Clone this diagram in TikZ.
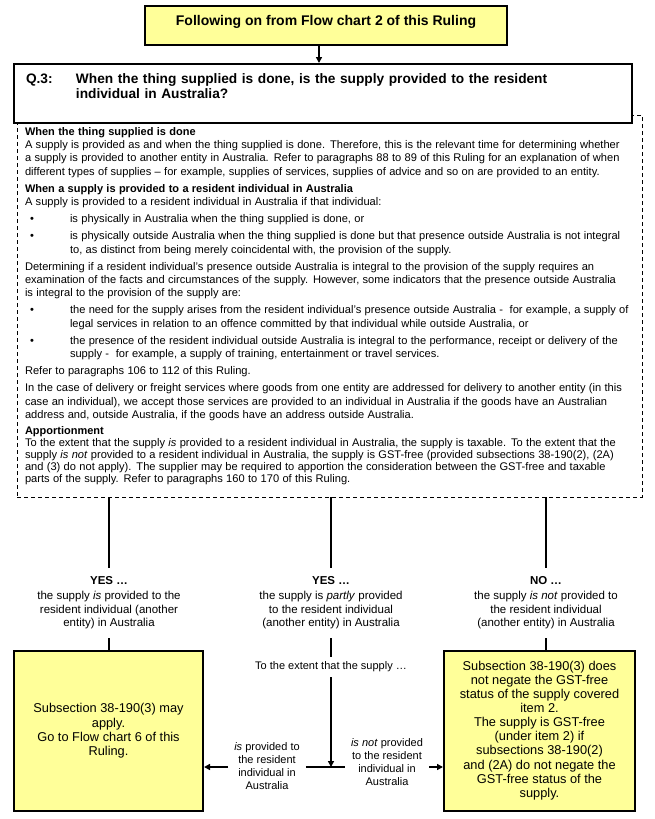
\documentclass[tikz,border=0pt]{standalone}
\usepackage{fontspec}
\setmainfont{Liberation Sans}
\usetikzlibrary{arrows.meta,positioning,calc}
\definecolor{boxyellow}{RGB}{255,255,153}
\setlength{\parindent}{0pt}

\newcommand{\headfont}{\fontsize{11}{13.2}\selectfont\bfseries}
\newcommand{\bulletpar}[1]{\par\hangindent=45pt\hangafter=1\noindent\makebox[45pt][l]{\hspace*{5pt}\textbullet}#1\par}

\begin{document}
\begin{tikzpicture}[
  x=1pt, y=-1pt,
  >={Triangle[length=6pt,width=6pt]},
  thickline/.style={line width=1.8pt},
  yellowbox/.style={draw,line width=2pt,fill=boxyellow,align=center,inner sep=0pt},
  qbox/.style={draw,line width=2pt,fill=white,align=left,text width=594pt,inner xsep=12pt,inner ysep=0pt,minimum height=59pt},
  notesbox/.style={draw,line width=0.8pt,dash pattern=on 4pt off 3pt,align=left,text width=609pt,inner xsep=8pt,inner ysep=0pt,minimum height=382pt},
  answer/.style={align=center,inner xsep=2pt,inner ysep=9pt,font=\fontsize{11.5}{13.5}\selectfont},
  sidelabel/.style={align=center,inner xsep=6pt,inner ysep=2pt,font=\fontsize{11}{13}\selectfont}
]
\path[use as bounding box,fill=white] (0,0) rectangle (654,819);

\node[yellowbox,minimum width=362pt,minimum height=39pt,text depth=11pt,font=\fontsize{14}{16}\selectfont\bfseries] (prev) at (326,25.5)
  {Following on from Flow chart 2 of this Ruling};

% notes first, the question box sits over its top edge
\node[notesbox] (notes) at (329.5,306) {%
  \fontsize{11.1}{13.2}\selectfont\setlength{\parskip}{4pt}%
  {\headfont When the thing supplied is done}\newline
  A supply is provided as and when the thing supplied is done. Therefore, this is the relevant time for determining whether\newline
  a supply is provided to another entity in Australia. Refer to paragraphs 88 to 89 of this Ruling for an explanation of when\newline
  different types of supplies -- for example, supplies of services, supplies of advice and so on are provided to an entity.\par
  {\headfont When a supply is provided to a resident individual in Australia}\newline
  A supply is provided to a resident individual in Australia if that individual:\par
  \bulletpar{is physically in Australia when the thing supplied is done, or}
  \bulletpar{is physically outside Australia when the thing supplied is done but that presence outside Australia is not integral\newline
    to, as distinct from being merely coincidental with, the provision of the supply.}
  Determining if a resident individual’s presence outside Australia is integral to the provision of the supply requires an\newline
  examination of the facts and circumstances of the supply. However, some indicators that the presence outside Australia\newline
  is integral to the provision of the supply are:\par
  \bulletpar{the need for the supply arises from the resident individual’s presence outside Australia - \ for example, a supply of\newline
    legal services in relation to an offence committed by that individual while outside Australia, or}
  \bulletpar{the presence of the resident individual outside Australia is integral to the performance, receipt or delivery of the\newline
    supply - \ for example, a supply of training, entertainment or travel services.}
  Refer to paragraphs 106 to 112 of this Ruling.\par
  In the case of delivery or freight services where goods from one entity are addressed for delivery to another entity (in this\newline
  case an individual), we accept those services are provided to an individual in Australia if the goods have an Australian\newline
  address and, outside Australia, if the goods have an address outside Australia.\par
  {\headfont Apportionment}\newline
  To the extent that the supply \textit{is} provided to a resident individual in Australia, the supply is taxable. To the extent that the\newline
  supply \textit{is not} provided to a resident individual in Australia, the supply is GST-free (provided subsections 38-190(2), (2A)\newline
  and (3) do not apply). The supplier may be required to apportion the consideration between the GST-free and taxable\newline
  parts of the supply. Refer to paragraphs 160 to 170 of this Ruling.};

\node[qbox,font=\fontsize{13.7}{15}\selectfont\bfseries] (q3) at (323,93.5)
  {\makebox[50pt][l]{Q.3:}When the thing supplied is done, is the supply provided to the resident\\
   \hspace*{50pt}individual in Australia?\\ \mbox{}};

\coordinate (dropT) at (319,0);
\draw[thickline,->] (prev.south -| dropT) -- (q3.north -| dropT);

\node[answer] (yesL) at (109,603) {{\fontsize{11.5}{13.5}\selectfont\bfseries YES …}\\[1.5pt]
  the supply \textit{is} provided to the\\resident individual (another\\entity) in Australia};
\node[answer] (yesM) at (331,603) {{\fontsize{11.5}{13.5}\selectfont\bfseries YES …}\\[1.5pt]
  the supply is \textit{partly} provided\\to the resident individual\\(another entity) in Australia};
\node[answer] (noR) at (546,603) {{\fontsize{11.5}{13.5}\selectfont\bfseries NO …}\\[1.5pt]
  the supply \textit{is not} provided to\\the resident individual\\(another entity) in Australia};

\node[yellowbox,minimum width=189pt,minimum height=160pt,font=\fontsize{12.8}{14.4}\selectfont] (boxL) at (108.5,731)
  {Subsection 38-190(3) may\\apply.\\Go to Flow chart 6 of this\\Ruling.};
\node[yellowbox,minimum width=191pt,minimum height=160pt,font=\fontsize{12.8}{14}\selectfont] (boxR) at (539.5,731)
  {Subsection 38-190(3) does\\not negate the GST-free\\status of the supply covered\\item 2.\\The supply is GST-free\\(under item 2) if\\subsections 38-190(2)\\[1pt]and (2A) do not negate the\\GST-free status of the\\supply.};

\node[sidelabel,inner ysep=5pt] (extent) at (331,667) {To the extent that the supply …};
\node[sidelabel] (isLbl) at (267,766.5) {\textit{is} provided to\\the resident\\individual in\\Australia};
\node[sidelabel] (notLbl) at (387,762.5) {\textit{is not} provided\\to the resident\\individual in\\Australia};

\draw[thickline] (notes.south -| yesL) -- (yesL.north);
\draw[thickline] (notes.south -| yesM) -- (yesM.north);
\draw[thickline] (notes.south -| noR) -- (noR.north);
\draw[thickline] (yesL.south) -- (yesL.south |- boxL.north);
\draw[thickline] (noR.south) -- (noR.south |- boxR.north);
\draw[thickline] (yesM.south) -- (extent.north);

\coordinate (split) at (331,767);
\draw[thickline,->] (extent.south) -- (split);
\draw[thickline] (isLbl.east |- split) -- (notLbl.west |- split);
\draw[thickline,->] (isLbl.west |- split) -- (boxL.east |- split);
\draw[thickline,->] (notLbl.east |- split) -- (boxR.west |- split);

\end{tikzpicture}
\end{document}
